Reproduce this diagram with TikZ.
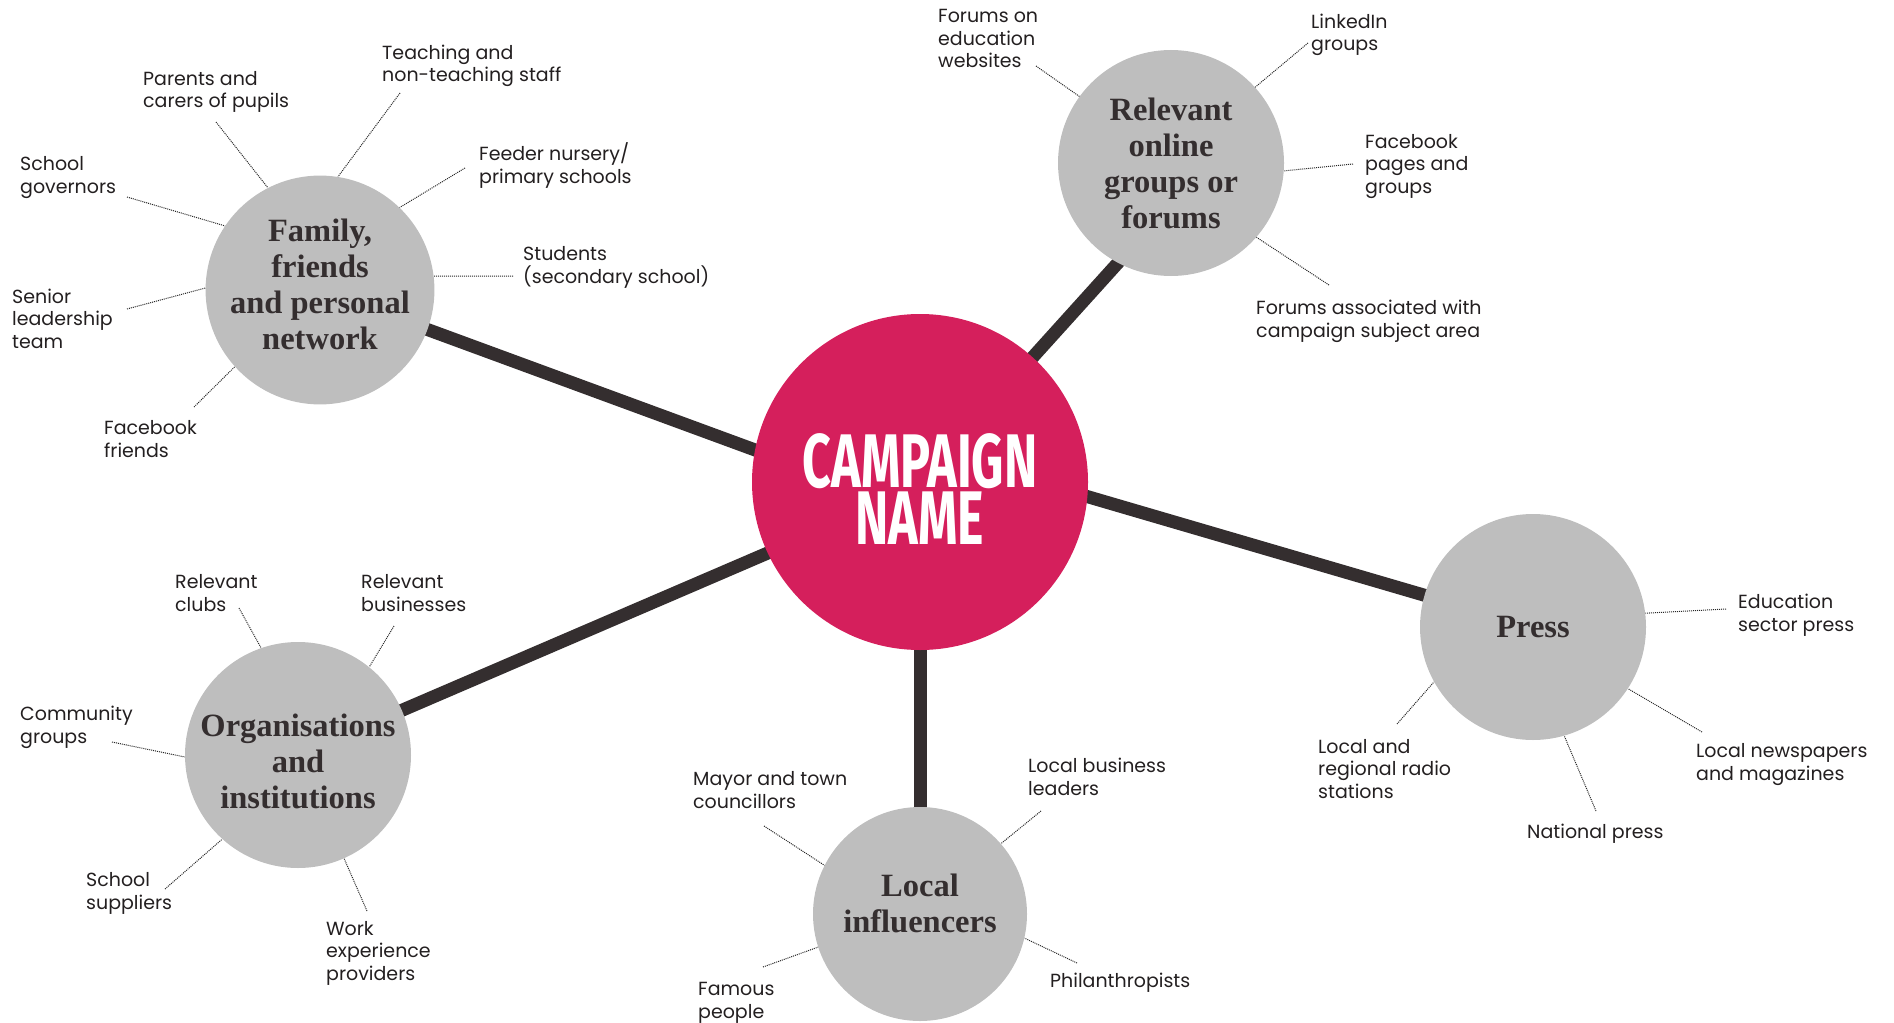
\documentclass[tikz,border=0pt]{standalone}
\usepackage{fontspec}
\usepackage{graphicx}
\usetikzlibrary{backgrounds}
\newfontfamily\leaffont{Poppins}
\newfontfamily\topicfont{Liberation Serif}
\newfontfamily\hubfont{Fira Sans}
\definecolor{campaign}{RGB}{213,31,92}
\definecolor{topicgrey}{RGB}{190,190,190}
\definecolor{inkdark}{RGB}{52,46,47}
\definecolor{leafink}{RGB}{35,31,32}
\tikzset{
	hub/.style={circle, fill=campaign, minimum size=336pt, inner sep=0pt, text=white, align=center, font=\hubfont\bfseries\fontsize{76}{57}\selectfont},
	topic/.style={circle, fill=topicgrey, minimum size=226pt, inner sep=0pt, text=inkdark, align=center, font=\topicfont\bfseries\fontsize{32.5}{36}\selectfont},
	leaf/.style={anchor=base west, inner sep=0pt, align=left, text=leafink, font=\leaffont\fontsize{19}{22.5}\selectfont},
	spoke/.style={line width=13pt, draw=inkdark, shorten <=-6pt, shorten >=-6pt},
	twig/.style={line width=1pt, draw=black!85, dash pattern=on 1pt off 1pt},
}
\begin{document}
\begin{tikzpicture}[x=1pt, y=-1pt]
	\useasboundingbox (0,0) rectangle (1894,1022);
	\node[hub] (main) at (920,482) {\rule{0pt}{67pt}\scalebox{0.66}[1]{CAMPAIGN}\\\scalebox{0.66}[1]{NAME}};
	\node[topic] (fam) at (320,290) {Family,\\friends\\and personal\\network\rule[-12pt]{0pt}{12pt}};
	\node[topic] (onl) at (1171,163) {Relevant\\online\\groups or\\forums};
	\node[topic] (org) at (298,755) {\rule{0pt}{36pt}Organisations\\and\\institutions};
	\node[topic] (press) at (1533,627) {Press};
	\node[topic, minimum size=214pt] (loc) at (920,914) {Local\\influencers\rule[-22pt]{0pt}{22pt}};
	
	\begin{scope}[on background layer]
		\draw[spoke] (fam) -- (main.169);
		\draw[spoke] (onl.242) -- (main);
		\draw[spoke] (org) -- (main.205);
		\draw[spoke] (press) -- (main.355);
		\draw[spoke] (loc) -- (main);
	\end{scope}
	
	\node[leaf] (parents) at (143,108) {Parents and\\carers of pupils};
	\node[leaf] (staff) at (382,82) {Teaching and\\non-teaching staff};
	\node[leaf] (governors) at (20,193) {School\\governors};
	\node[leaf] (feeder) at (479,183) {Feeder nursery/\\primary schools};
	\node[leaf] (students) at (523,283) {Students\\(secondary school)};
	\node[leaf] (senior) at (12,348) {Senior\\leadership\\team};
	\node[leaf] (fbfriends) at (104,457) {Facebook\\friends};
	\coordinate (parents-t) at (216,122);
	\coordinate (staff-t) at (400,93);
	\coordinate (governors-t) at (127,197);
	\coordinate (feeder-t) at (465,168);
	\coordinate (students-t) at (513,276);
	\coordinate (senior-t) at (127,309);
	\coordinate (fbfriends-t) at (194,407);
	\draw[twig] (parents-t) -- (fam.117);
	\draw[twig] (staff-t) -- (fam.81);
	\draw[twig] (governors-t) -- (fam.146);
	\draw[twig] (feeder-t) -- (fam.46);
	\draw[twig] (students-t) -- (fam.7);
	\draw[twig] (senior-t) -- (fam.179);
	\draw[twig] (fbfriends-t) -- (fam.222);
	
	\node[leaf] (eduweb) at (938,68) {Forums on\\education\\websites};
	\node[leaf] (linkedin) at (1311,51) {LinkedIn\\groups};
	\node[leaf] (fbpages) at (1365,193) {Facebook\\pages and\\groups};
	\node[leaf] (subject) at (1256,337) {Forums associated with\\campaign subject area};
	\coordinate (eduweb-t) at (1036,66);
	\coordinate (linkedin-t) at (1308,43);
	\coordinate (fbpages-t) at (1353,164);
	\coordinate (subject-t) at (1329,285);
	\draw[twig] (eduweb-t) -- (onl.144);
	\draw[twig] (linkedin-t) -- (onl.42);
	\draw[twig] (fbpages-t) -- (onl.356);
	\draw[twig] (subject-t) -- (onl.319);
	
	\node[leaf] (clubs) at (175,611) {Relevant\\clubs};
	\node[leaf] (business) at (361,611) {Relevant\\businesses};
	\node[leaf] (community) at (20,743) {Community\\groups};
	\node[leaf] (suppliers) at (86,909) {School\\suppliers};
	\node[leaf] (work) at (326,980) {Work\\experience\\providers};
	\coordinate (clubs-t) at (239,608);
	\coordinate (business-t) at (394,626);
	\coordinate (community-t) at (112,742);
	\coordinate (suppliers-t) at (165,889);
	\coordinate (work-t) at (367,911);
	\draw[twig] (clubs-t) -- (org.109);
	\draw[twig] (business-t) -- (org.51);
	\draw[twig] (community-t) -- (org.181);
	\draw[twig] (suppliers-t) -- (org.228);
	\draw[twig] (work-t) -- (org.294);
	
	\node[leaf] (mayor) at (693,808) {Mayor and town\\councillors};
	\node[leaf] (leaders) at (1028,795) {Local business\\leaders};
	\node[leaf] (famous) at (698,1018) {Famous\\people};
	\node[leaf] (phil) at (1050,987) {Philanthropists};
	\coordinate (mayor-t) at (764,826);
	\coordinate (leaders-t) at (1041,811);
	\coordinate (famous-t) at (763,967);
	\coordinate (phil-t) at (1077,963);
	\draw[twig] (mayor-t) -- (loc.153);
	\draw[twig] (leaders-t) -- (loc.41);
	\draw[twig] (famous-t) -- (loc.198);
	\draw[twig] (phil-t) -- (loc.347);
	
	\node[leaf] (edupress) at (1738,631) {Education\\sector press};
	\node[leaf] (papers) at (1696,780) {Local newspapers\\and magazines};
	\node[leaf] (national) at (1527,838) {National press};
	\node[leaf] (radio) at (1318,798) {Local and\\regional radio\\stations};
	\coordinate (edupress-t) at (1726,609);
	\coordinate (papers-t) at (1702,732);
	\coordinate (national-t) at (1596,811);
	\coordinate (radio-t) at (1397,724);
	\draw[twig] (edupress-t) -- (press.7);
	\draw[twig] (papers-t) -- (press.327);
	\draw[twig] (national-t) -- (press.286);
	\draw[twig] (radio-t) -- (press.209);
\end{tikzpicture}
\end{document}
